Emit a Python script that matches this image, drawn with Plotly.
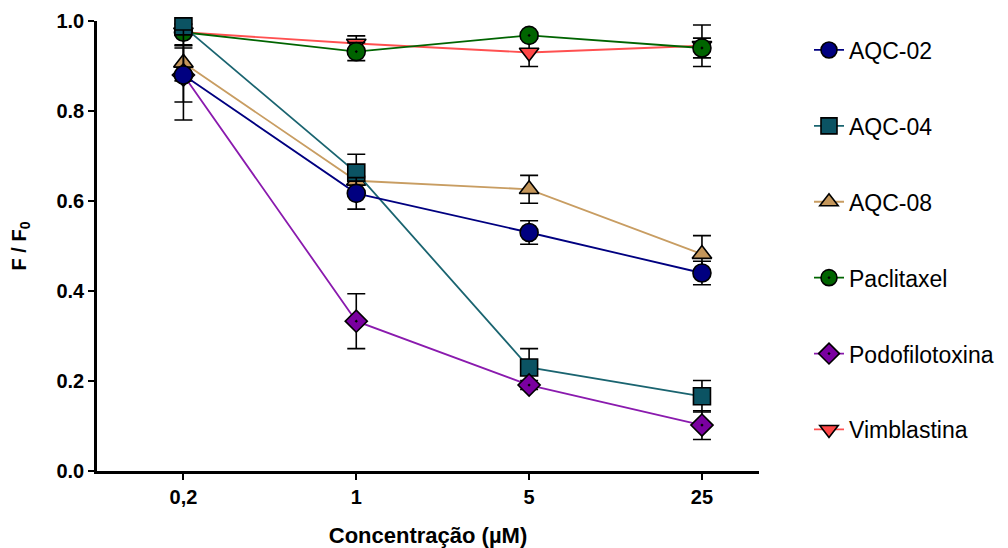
import plotly.graph_objects as go

categories = ["0,2", "1", "5", "25"]
x_idx = [0, 1, 2, 3]

series_names = ["AQC-02", "AQC-04", "AQC-08", "Paclitaxel", "Podofilotoxina", "Vimblastina"]

aqc02 = [0.880, 0.617, 0.530, 0.440]
aqc02_err = [0.100, 0.035, 0.026, 0.026]
aqc04 = [0.988, 0.663, 0.230, 0.166]
aqc04_err = [0.005, 0.041, 0.042, 0.035]
aqc08 = [0.907, 0.645, 0.626, 0.482]
aqc08_err = [0.040, 0.010, 0.031, 0.041]
paclitaxel = [0.975, 0.932, 0.968, 0.940]
paclitaxel_err = [0.005, 0.020, 0.005, 0.022]
podofilotoxina = [0.880, 0.333, 0.191, 0.102]
podofilotoxina_err = [0.060, 0.061, 0.010, 0.032]
vimblastina = [0.975, 0.950, 0.930, 0.945]
vimblastina_err = [0.030, 0.017, 0.031, 0.046]

y_ticks = [0.0, 0.2, 0.4, 0.6, 0.8, 1.0]
y_ticktext = ["0.0", "0.2", "0.4", "0.6", "0.8", "1.0"]

styles = [
    dict(symbol="circle", fill="#000080", line="#000080", size=18),
    dict(symbol="square", fill="#0B5363", line="#1A6470", size=17),
    dict(symbol="triangle-up", fill="#C4965A", line="#C89D62", size=17),
    dict(symbol="circle-dot", fill="#006400", line="#006400", size=18),
    dict(symbol="diamond-dot", fill="#7A00A0", line="#8A1AAE", size=17),
    dict(symbol="triangle-down", fill="#FF4747", line="#FF5050", size=17),
]
values = [aqc02, aqc04, aqc08, paclitaxel, podofilotoxina, vimblastina]
errors = [aqc02_err, aqc04_err, aqc08_err, paclitaxel_err, podofilotoxina_err, vimblastina_err]

# stacking order of the marks (bottom to top), as seen in the reference
draw_order = ["Vimblastina", "Paclitaxel", "AQC-08", "AQC-04", "Podofilotoxina", "AQC-02"]

FONT = "Liberation Sans, Arial, sans-serif"

fig = go.Figure()
items = {name: (rank, vals, errs, st) for rank, (name, vals, errs, st)
         in enumerate(zip(series_names, values, errors, styles))}
for name in draw_order:
    rank, vals, errs, st = items[name]
    fig.add_trace(go.Scatter(
        x=x_idx, y=vals, name=name, mode="lines+markers",
        legendgroup=name, legendrank=rank + 1,
        line=dict(color=st["line"], width=1.8),
        marker=dict(symbol=st["symbol"], size=st["size"], color=st["fill"],
                    line=dict(color="black", width=1.6)),
        error_y=dict(type="data", array=errs, visible=True, color="black",
                     thickness=1.6, width=9),
        cliponaxis=False,
    ))

# page body has an 8px default margin: figure is 1000x540 placed at (8,8)
fig.update_layout(
    width=1000, height=540,
    margin=dict(l=89, r=249, t=13, b=77),
    plot_bgcolor="white", paper_bgcolor="white",
    font=dict(family=FONT, color="black"),
    showlegend=True,
    legend=dict(
        xref="container", yref="container", x=0.801, y=0.962,
        xanchor="left", yanchor="top",
        font=dict(size=23, family=FONT),
        tracegroupgap=43, itemwidth=30, maxheight=530,
        bgcolor="rgba(0,0,0,0)",
    ),
    xaxis=dict(
        range=[-0.5, 3.33], tickvals=x_idx, ticktext=categories,
        showline=True, linecolor="black", linewidth=2.5,
        ticks="outside", ticklen=6, tickwidth=2, tickcolor="black",
        showgrid=False, zeroline=False, automargin=False,
        tickfont=dict(size=20, family=FONT, weight="bold"),
        title=dict(text="<b>Concentração (µM)</b>", font=dict(size=22, family=FONT), standoff=27),
    ),
    yaxis=dict(
        range=[0, 1.0], tickvals=y_ticks, ticktext=y_ticktext,
        showline=True, linecolor="black", linewidth=2.5,
        ticks="outside", ticklen=6, tickwidth=2, tickcolor="black",
        showgrid=False, zeroline=False, automargin=False,
        tickfont=dict(size=20, family=FONT, weight="bold"),
        title=dict(text="<b>F / F<sub>0</sub></b>", font=dict(size=20, family=FONT), standoff=28),
    ),
)

fig.write_html("out.html")
